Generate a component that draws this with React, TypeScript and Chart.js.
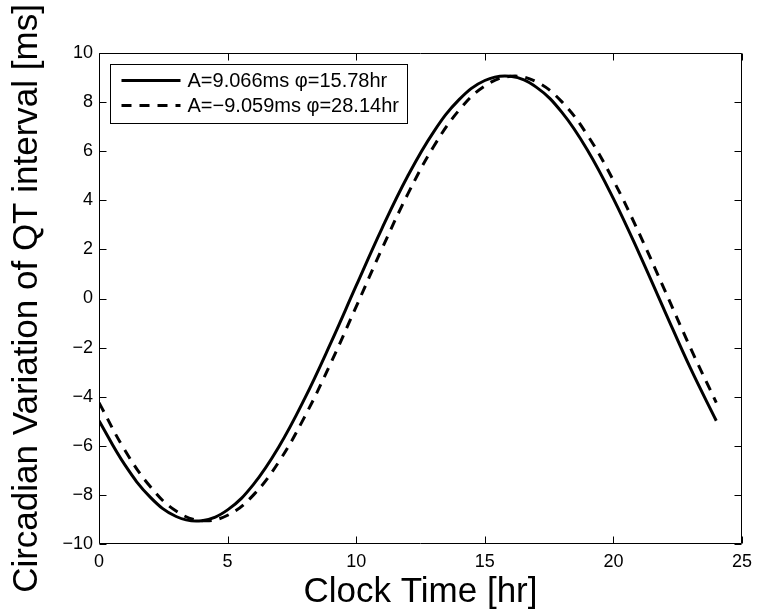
import { useEffect, useRef } from "react";
import { Chart, registerables } from "chart.js";

Chart.register(...registerables);

// Clock time [hr]
const hours = [0, 1, 2, 3, 4, 5, 6, 7, 8, 9, 10, 11, 12, 13, 14, 15, 16, 17, 18, 19, 20, 21, 22, 23, 24];
// Solid curve: A=9.066ms, phi=15.78hr
const solidValues = [-4.98, -6.77, -8.10, -8.88, -9.05, -8.61, -7.58, -6.03, -4.07, -1.84, 0.52, 2.85, 4.98, 6.77, 8.10, 8.88, 9.05, 8.61, 7.58, 6.03, 4.07, 1.84, -0.52, -2.85, -4.98];
// Dashed curve: A=-9.059ms, phi=28.14hr
const dashedValues = [-4.24, -6.17, -7.67, -8.66, -9.05, -8.83, -8.01, -6.64, -4.81, -2.66, -0.33, 2.02, 4.24, 6.17, 7.67, 8.66, 9.05, 8.83, 8.01, 6.64, 4.81, 2.66, 0.33, -2.02, -4.24];

const xTicks = [0, 5, 10, 15, 20, 25];
const yTicks = [-10, -8, -6, -4, -2, 0, 2, 4, 6, 8, 10];
const legendLabels = ["A=9.066ms \u03C6=15.78hr", "A=\u22129.059ms \u03C6=28.14hr"];
const xTitle = "Clock Time [hr]";
const yTitle = "Circadian Variation of QT interval [ms]";

const FONT = "'Liberation Sans', Arial, Helvetica, sans-serif";

const framePlugin = {
  id: "matlabFrame",
  afterDatasetsDraw(chart: any) {
    const { ctx, chartArea: a, scales } = chart;
    const xs = scales.x;
    const ys = scales.y;
    const tl = 7;
    ctx.save();
    ctx.strokeStyle = "#000";
    ctx.lineWidth = 1;
    ctx.setLineDash([]);
    ctx.beginPath();
    const L = Math.round(a.left) + 0.5;
    const R = Math.round(a.right) - 0.5;
    const T = Math.round(a.top) + 0.5;
    const B = Math.round(a.bottom) - 0.5;
    ctx.rect(L, T, R - L, B - T);
    xTicks.forEach((v) => {
      const px = Math.round(xs.getPixelForValue(v)) + 0.5;
      ctx.moveTo(px, B);
      ctx.lineTo(px, B - tl);
      ctx.moveTo(px, T);
      ctx.lineTo(px, T + tl);
    });
    yTicks.forEach((v) => {
      const py = Math.round(ys.getPixelForValue(v)) + 0.5;
      ctx.moveTo(L, py);
      ctx.lineTo(L + tl, py);
      ctx.moveTo(R, py);
      ctx.lineTo(R - tl, py);
    });
    ctx.stroke();

    // Legend
    ctx.font = `20px ${FONT}`;
    const textX = L + 88;
    const w = Math.max(...legendLabels.map((s) => ctx.measureText(s).width));
    const bx = L + 10;
    const by = T + 10;
    const bw = textX - bx + w + 8;
    const bh = 59;
    ctx.fillStyle = "#fff";
    ctx.fillRect(bx, by, bw, bh);
    ctx.lineWidth = 1;
    ctx.strokeRect(Math.round(bx) + 0.5, Math.round(by) + 0.5, Math.round(bw), bh);
    const rows = [by + 17, by + 42];
    legendLabels.forEach((label, i) => {
      ctx.beginPath();
      ctx.lineWidth = 3;
      ctx.setLineDash(i === 0 ? [] : [10, 8]);
      ctx.moveTo(bx + 12, rows[i]);
      ctx.lineTo(bx + 71, rows[i]);
      ctx.stroke();
      ctx.setLineDash([]);
      ctx.fillStyle = "#000";
      ctx.textBaseline = "middle";
      ctx.textAlign = "left";
      ctx.fillText(label, textX, rows[i] + 1);
    });
    ctx.restore();
  },
};

export default function App() {
  const ref = useRef<HTMLCanvasElement | null>(null);

  useEffect(() => {
    document.body.style.margin = "0";
    if (!ref.current) return;
    const chart = new Chart(ref.current, {
      type: "line",
      data: {
        datasets: [
          {
            label: legendLabels[0],
            data: hours.map((h, i) => ({ x: h, y: solidValues[i] })),
            borderColor: "#000",
            borderWidth: 3,
            pointRadius: 0,
            tension: 0.4,
            fill: false,
          },
          {
            label: legendLabels[1],
            data: hours.map((h, i) => ({ x: h, y: dashedValues[i] })),
            borderColor: "#000",
            borderWidth: 3,
            borderDash: [10, 8],
            pointRadius: 0,
            tension: 0.4,
            fill: false,
          },
        ],
      },
      options: {
        animation: false,
        responsive: false,
        maintainAspectRatio: false,
        layout: { padding: { left: 0, top: 53, right: 14, bottom: 0 } },
        plugins: { legend: { display: false }, tooltip: { enabled: false } },
        scales: {
          x: {
            type: "linear",
            min: 0,
            max: 25,
            grid: { display: false, drawTicks: false },
            border: { display: false },
            afterBuildTicks: (s: any) => {
              s.ticks = xTicks.map((v) => ({ value: v }));
            },
            afterFit: (s: any) => {
              s.height = 72;
            },
            ticks: {
              color: "#000",
              font: { family: FONT, size: 18 },
              padding: 7,
              maxRotation: 0,
              autoSkip: false,
              callback: (v: any) => String(v).replace("-", "\u2212"),
            },
            title: {
              display: true,
              text: xTitle,
              color: "#000",
              font: { family: FONT, size: 35 },
              padding: { top: 0, bottom: 3 },
            },
          },
          y: {
            type: "linear",
            min: -10,
            max: 10,
            grid: { display: false, drawTicks: false },
            border: { display: false },
            afterBuildTicks: (s: any) => {
              s.ticks = yTicks.map((v) => ({ value: v }));
            },
            afterFit: (s: any) => {
              s.width = 99;
            },
            ticks: {
              color: "#000",
              font: { family: FONT, size: 18 },
              padding: 6,
              autoSkip: false,
              callback: (v: any) => String(v).replace("-", "\u2212"),
            },
            title: {
              display: true,
              text: yTitle,
              color: "#000",
              font: { family: FONT, size: 35 },
              padding: { top: 6, bottom: 0 },
            },
          },
        },
      },
      plugins: [framePlugin],
    });
    return () => chart.destroy();
  }, []);

  return (
    <div style={{ position: "absolute", left: 0, top: 0, width: 759, height: 616, background: "#fff" }}>
      <canvas ref={ref} width={759} height={616} style={{ width: 759, height: 616, display: "block" }} />
    </div>
  );
}
